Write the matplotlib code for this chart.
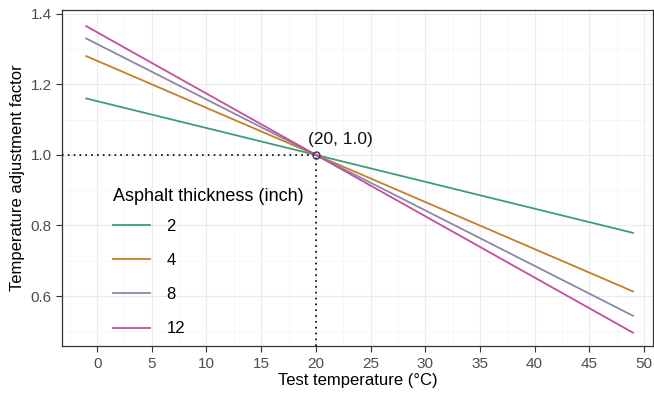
import matplotlib
matplotlib.use("Agg")
import matplotlib.pyplot as plt
from matplotlib.ticker import MultipleLocator

plt.rcParams['font.family'] = ['Liberation Sans', 'DejaVu Sans']

# data
temps = [-1, 20, 49]
thickness = ['2', '4', '8', '12']
factor_2 = [1.160, 1.0, 0.779]
factor_4 = [1.280, 1.0, 0.613]
factor_8 = [1.330, 1.0, 0.544]
factor_12 = [1.365, 1.0, 0.496]
colors = ['#3a9e7e', '#c47f27', '#8a87a8', '#c44d9e']

fig = plt.figure(figsize=(6.54, 3.96), dpi=100)
ax = fig.add_axes([0.095, 0.126, 0.903, 0.849])

for lab, ys, c in zip(thickness, [factor_2, factor_4, factor_8, factor_12], colors):
    ax.plot(temps, ys, color=c, lw=1.3, label=lab, zorder=3)

# reference point
ax.plot([-3.2, 20], [1.0, 1.0], ls=(0, (1, 2.5)), color='black', lw=1.2, zorder=2)
ax.plot([20, 20], [0.458, 1.0], ls=(0, (1, 2.5)), color='black', lw=1.2, zorder=2)
ax.plot([20], [1.0], marker='o', mfc='none', mec='#333355', ms=5, zorder=4)
ax.text(19.3, 1.022, '(20, 1.0)', fontsize=12.5, ha='left', va='bottom', color='#111111')

ax.xaxis.set_major_locator(MultipleLocator(5))
ax.xaxis.set_minor_locator(MultipleLocator(2.5))
ax.yaxis.set_major_locator(MultipleLocator(0.2))
ax.yaxis.set_minor_locator(MultipleLocator(0.1))
ax.yaxis.set_major_formatter(lambda v, pos: f'{v:.1f}')
ax.set_xlim(-3.2, 50.8)
ax.set_ylim(0.458, 1.411)
ax.grid(which='major', color='#ebebeb', lw=0.8)
ax.grid(which='minor', color='#f4f4f4', lw=0.5)
ax.set_axisbelow(True)
ax.tick_params(which='minor', length=0)
ax.tick_params(which='major', length=4, color='#333333', labelsize=11, labelcolor='#4d4d4d')
for s in ax.spines.values():
    s.set_color('#333333')
    s.set_linewidth(0.9)

ax.set_xlabel('Test temperature (°C)', fontsize=12, labelpad=2)
ax.set_ylabel('Temperature adjustment factor', fontsize=12, labelpad=4)

leg = ax.legend(title='Asphalt thickness (inch)', loc='upper left',
                bbox_to_anchor=(0.075, 0.49), frameon=False, fontsize=12,
                title_fontsize=13, handlelength=2.2, labelspacing=1.15,
                handletextpad=1.0, borderaxespad=0)
leg._legend_box.align = 'left'
leg._legend_box.sep = 10

fig.savefig('out.png', dpi=100)
